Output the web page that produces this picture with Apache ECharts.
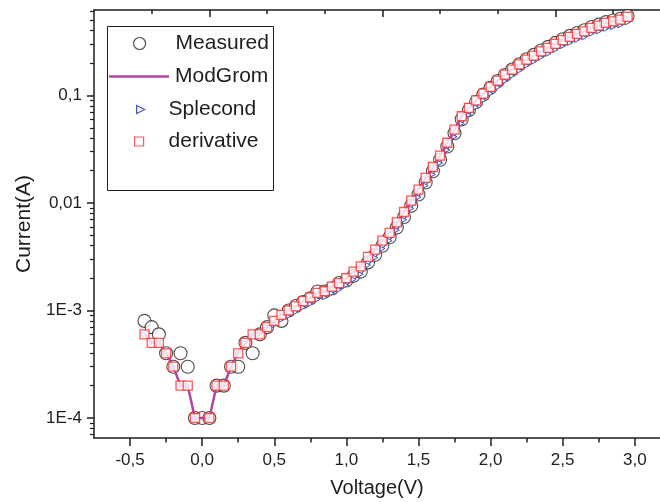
<!DOCTYPE html>
<html><head><meta charset="utf-8">
<script src="https://cdn.jsdelivr.net/npm/echarts@6/dist/echarts.min.js"></script>
<style>html,body{margin:0;padding:0;background:#fff}#c{width:660px;height:502px}</style>
</head><body><div id="c"></div>
<script>
// ---- data (Voltage in V, Current in A) ----
const voltage = [-0.40,-0.35,-0.30,-0.25,-0.20,-0.15,-0.10,-0.05,0.00,0.05,
  0.10,0.15,0.20,0.25,0.30,0.35,0.40,0.45,0.50,0.55,
  0.60,0.65,0.70,0.75,0.80,0.85,0.90,0.95,1.00,1.05,
  1.10,1.15,1.20,1.25,1.30,1.35,1.40,1.45,1.50,1.55,
  1.60,1.65,1.70,1.75,1.80,1.85,1.90,1.95,2.00,2.05,
  2.10,2.15,2.20,2.25,2.30,2.35,2.40,2.45,2.50,2.55,
  2.60,2.65,2.70,2.75,2.80,2.85,2.90,2.95];
const measured = [8.0e-4,7.0e-4,6.0e-4,4.0e-4,3.0e-4,4.0e-4,3.0e-4,1.0e-4,1.0e-4,1.0e-4,
  2.0e-4,2.0e-4,3.0e-4,3.0e-4,5.0e-4,4.0e-4,6.0e-4,7.0e-4,9.0e-4,8.0e-4,
  1.0e-3,1.1e-3,1.2e-3,1.3e-3,1.5e-3,1.5e-3,1.6e-3,1.8e-3,1.9e-3,2.1e-3,
  2.3e-3,2.8e-3,3.3e-3,4.0e-3,4.8e-3,5.9e-3,7.4e-3,9.4e-3,0.0120,0.0155,
  0.0197,0.0252,0.0335,0.0445,0.060,0.073,0.087,0.102,0.118,0.136,
  0.155,0.174,0.195,0.217,0.238,0.262,0.283,0.308,0.333,0.358,
  0.381,0.403,0.433,0.455,0.480,0.498,0.517,0.547];
const modGrom = [6e-4,5e-4,5e-4,4e-4,3e-4,2e-4,2e-4,1e-4,1e-4,1e-4,
  2e-4,2e-4,3e-4,4e-4,5e-4,6e-4,6e-4,7e-4,8e-4,9.1e-4,
  1.0e-3,1.09e-3,1.22e-3,1.32e-3,1.46e-3,1.51e-3,1.67e-3,1.80e-3,2.0e-3,2.3e-3,
  2.57e-3,3.15e-3,3.68e-3,4.46e-3,5.26e-3,6.6e-3,8.24e-3,0.0105,0.0133,0.0171,
  0.0216,0.0275,0.0363,0.048,0.064,0.0766,0.090,0.104,0.120,0.1375,
  0.156,0.174,0.194,0.215,0.234,0.257,0.277,0.301,0.326,0.350,
  0.373,0.394,0.425,0.446,0.472,0.489,0.507,0.537];
const splecond = [6e-4,5e-4,5e-4,4e-4,3e-4,2e-4,2e-4,1e-4,null,1e-4,
  2e-4,2e-4,3e-4,4e-4,5e-4,6e-4,6e-4,7e-4,7.3e-4,8.2e-4,
  8.9e-4,9.7e-4,1.07e-3,1.15e-3,1.27e-3,1.33e-3,1.45e-3,1.56e-3,1.72e-3,1.94e-3,
  2.17e-3,2.64e-3,3.1e-3,3.76e-3,4.46e-3,5.58e-3,6.98e-3,8.88e-3,0.0113,0.0145,
  0.0184,0.0235,0.031,0.0412,0.0548,0.0658,0.0776,0.0902,0.104,0.119,
  0.136,0.152,0.170,0.189,0.206,0.226,0.244,0.266,0.287,0.308,
  0.329,0.347,0.375,0.394,0.417,0.433,0.449,0.477];
const derivative = [6e-4,5e-4,5e-4,4e-4,3e-4,2e-4,2e-4,1e-4,null,1e-4,
  2e-4,2e-4,3e-4,4e-4,5e-4,6e-4,6e-4,7e-4,8e-4,9.1e-4,
  1.0e-3,1.09e-3,1.22e-3,1.32e-3,1.46e-3,1.51e-3,1.67e-3,1.80e-3,2.0e-3,2.3e-3,
  2.57e-3,3.15e-3,3.68e-3,4.46e-3,5.26e-3,6.6e-3,8.24e-3,0.0105,0.0133,0.0171,
  0.0216,0.0275,0.0363,0.048,0.064,0.0766,0.090,0.104,0.120,0.1375,
  0.156,0.174,0.194,0.215,0.234,0.257,0.277,0.301,0.326,0.350,
  0.373,0.394,0.425,0.446,0.472,0.489,0.507,0.537];

const xTickValues = [-0.5,0,0.5,1,1.5,2,2.5,3];
const xTickLabels = ['-0,5','0,0','0,5','1,0','1,5','2,0','2,5','3,0'];
const xMinorTicks = [-0.25,0.25,0.75,1.25,1.75,2.25,2.75];
const topMajorTicks = [0.05,1.25,2.45];
const topMinorTicks = [-0.35,0.45,0.85,1.65,2.05,2.85];
const yTickValues = [1e-4,1e-3,1e-2,1e-1];
const yTickLabels = ['1E-4','1E-3','0,01','0,1'];
const xRange = [-0.75, 3.175];
const yRange = [6.52e-5, 0.6227];

// ---- build ----
const lg = v => Math.log10(v);
function pairs(arr){ return voltage.map((v,i)=> arr[i]==null ? null : [v, lg(arr[i])]).filter(p=>p); }
const yMin = lg(yRange[0]), yMax = lg(yRange[1]);
const yMajor = yTickValues.map(lg);
const yMinor = [];
for (let e=-5; e<=0; e++) for (let k=2;k<=9;k++){ const v=lg(k*Math.pow(10,e)); if(v>yMin && v<yMax) yMinor.push(v); }

const FONT = "'Liberation Sans', Arial, sans-serif";
const INK = '#1e1e1e';
const axisLine = {show:true, onZero:false, lineStyle:{color:INK, width:1.5}};
const noLine = {show:false, onZero:false};
const hidden = {show:false};
const triPath = 'path://M0,0 L10,5 L0,10 Z';
const C_MEAS = '#222222', C_MOD = '#b2479f', C_SPL = '#3a58b8', C_DER = '#ff2b2b';

function xAx(extra){ return Object.assign({type:'value', min:xRange[0], max:xRange[1], splitLine:hidden, axisLabel:hidden, axisLine:noLine}, extra); }
function yAx(extra){ return Object.assign({type:'value', min:yMin, max:yMax, splitLine:hidden, axisLabel:hidden, axisLine:noLine}, extra); }

function legendOf(name, left, top, w, h, textPad, extra){
  return Object.assign({orient:'vertical', padding:0, itemGap:0, selectedMode:false,
    left:left, top:top, itemWidth:w, itemHeight:h,
    textStyle:{fontSize:21, color:INK, fontFamily:FONT, padding:[0,0,0,textPad]},
    data:[Object.assign({name:name}, extra)]});
}

const option = {
  animation:false,
  backgroundColor:'#ffffff',
  grid:{left:94, top:10, right:0, bottom:64, containLabel:false, outerBoundsMode:'none'},
  xAxis:[
    xAx({position:'bottom', axisLine:axisLine,
      axisTick:{show:true, inside:false, length:8, customValues:xTickValues, lineStyle:{color:INK,width:1.5}},
      axisLabel:{show:true, customValues:xTickValues, margin:14, fontSize:17, color:INK, fontFamily:FONT,
        formatter:(v)=>{ const i=xTickValues.findIndex(t=>Math.abs(t-v)<1e-6); return i>=0?xTickLabels[i]:''; }},
      name:'Voltage(V)', nameLocation:'middle', nameGap:40,
      nameTextStyle:{fontSize:20, color:INK, fontFamily:FONT}}),
    xAx({position:'bottom', axisTick:{show:true, inside:false, length:4.5, customValues:xMinorTicks, lineStyle:{color:INK,width:1.5}}}),
    xAx({position:'top', axisLine:axisLine,
      axisTick:{show:true, inside:true, length:7, customValues:topMajorTicks, lineStyle:{color:INK,width:1.5}}}),
    xAx({position:'top', axisTick:{show:true, inside:true, length:4, customValues:topMinorTicks, lineStyle:{color:INK,width:1.5}}})
  ],
  yAxis:[
    yAx({position:'left', axisLine:axisLine,
      axisTick:{show:true, inside:false, length:7, customValues:yMajor, lineStyle:{color:INK,width:1.5}},
      axisLabel:{show:true, customValues:yMajor, margin:12, fontSize:17, color:INK, fontFamily:FONT,
        formatter:(v)=>{ const i=yMajor.findIndex(t=>Math.abs(t-v)<1e-6); return i>=0?yTickLabels[i]:''; }},
      name:'Current(A)', nameLocation:'middle', nameGap:48, nameRotate:90,
      nameTextStyle:{fontSize:21, color:INK, fontFamily:FONT}}),
    yAx({position:'left', axisTick:{show:true, inside:false, length:4, customValues:yMinor, lineStyle:{color:INK,width:1.2}}})
  ],
  legend:[
    legendOf('Measured', 133, 33, 12, 12, 25, {icon:'circle', itemStyle:{color:'#fff', borderColor:C_MEAS, borderWidth:1.2}}),
    legendOf('ModGrom', 109, 66, 60, 2.5, 1, {icon:'rect', itemStyle:{color:C_MOD, borderWidth:0}}),
    legendOf('Splecond', 136, 99, 8, 9, 19, {icon:triPath, itemStyle:{color:'#fff', borderColor:C_SPL, borderWidth:1.2}}),
    legendOf('derivative', 134, 131, 9, 9, 20, {icon:'rect', itemStyle:{color:'#fff', borderColor:C_DER, borderWidth:1.2}})
  ],
  graphic:[
    {type:'rect', z:100, shape:{x:107.5, y:26.5, width:166, height:164}, style:{fill:null, stroke:INK, lineWidth:1}}
  ],
  series:[
    {name:'Measured', type:'scatter', data:pairs(measured), symbol:'circle', symbolSize:13, z:2,
      itemStyle:{color:'#ffffff', borderColor:C_MEAS, borderWidth:1.1}},
    {name:'Splecond', type:'line', data:pairs(splecond), symbol:triPath, symbolSize:[5,5], showSymbol:true, z:3,
      lineStyle:{color:C_SPL, width:1.2}, itemStyle:{color:'#fff', borderColor:C_SPL, borderWidth:1}},
    {name:'ModGrom', type:'line', data:pairs(modGrom), symbol:'none', z:4,
      lineStyle:{color:C_MOD, width:2.5}, itemStyle:{color:C_MOD}},
    {name:'derivative', type:'scatter', data:pairs(derivative), symbol:'rect', symbolSize:9, z:5,
      itemStyle:{color:'#ffffff', borderColor:C_DER, borderWidth:1.3}}
  ]
};
const chart = echarts.init(document.getElementById('c'), null, {renderer:'canvas'});
chart.setOption(option);
</script>
</body></html>
